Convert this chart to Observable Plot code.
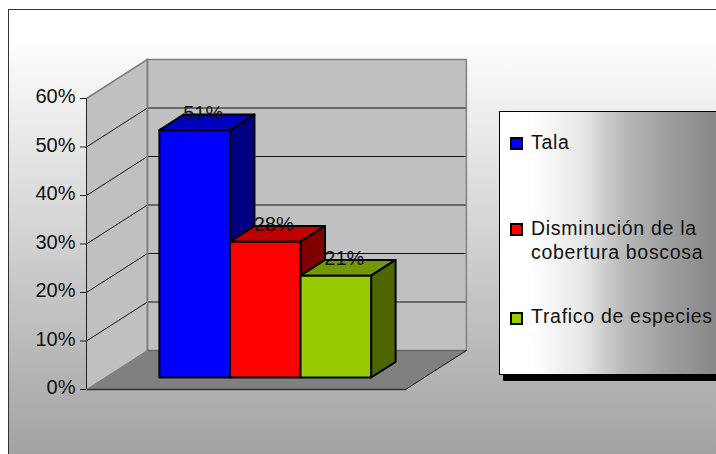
<!DOCTYPE html>
<html>
<head>
<meta charset="utf-8">
<script src="https://cdn.jsdelivr.net/npm/d3@7"></script>
<script src="https://cdn.jsdelivr.net/npm/@observablehq/plot@0.6"></script>
<style>
html,body{margin:0;padding:0;width:716px;height:454px;overflow:hidden;background:#fff}
#bg{position:absolute;left:8px;top:9px;width:720px;height:460px;box-sizing:border-box;border:1.5px solid #333;
  background:linear-gradient(to bottom,#fff 0,#fff 25px,#a2a2a2 445px)}
#chart{position:absolute;left:0;top:0}
#legend{position:absolute;left:499px;top:111px;width:240px;height:264px;box-sizing:border-box;border:1px solid #000;
  box-shadow:4px 6px 0 #000;background:linear-gradient(to right,#fff 0,#fff 31px,#e8e8e8 81px,#bbb 121px,#a0a0a0 164px,#888 214px);
  font:19.5px "Liberation Sans",Arial,sans-serif;letter-spacing:.7px;color:#111}
.sw{position:absolute;left:10px;width:9px;height:9px;border:2px solid #000}
.lb{position:absolute;left:31px;line-height:24px;white-space:nowrap}
</style>
</head>
<body>
<div id="bg"></div>
<div id="chart"></div>
<div id="legend"></div>
<script>
const categories = ["Tala", "Disminución de la cobertura boscosa", "Trafico de especies"];
const legendLines = [["Tala"], ["Disminución de la", "cobertura boscosa"], ["Trafico de especies"]];
const values = [51, 28, 21];
const labels = ["51%", "28%", "21%"];
const frontColors = ["#0000ff", "#ff0000", "#99cc00"];
const topColors = ["#0000c0", "#c00000", "#739900"];
const sideColors = ["#000080", "#800000", "#4d6600"];
const yTicks = [0, 10, 20, 30, 40, 50, 60];

// oblique projection, expressed in data units (x: one bar = 1, y: percent)
const depthX = 0.863, depthY = 8.04;
const gap = 0.767, floorWidth = 4.52;
const depthFront = 0.308, depthBack = 0.71;
const P = (x, v, d) => ({x: x + d * depthX, y: v + d * depthY});

const face = (pts, fill, stroke, strokeWidth) =>
  Plot.line(pts, {x: "x", y: "y", fill, stroke, strokeWidth, curve: "linear-closed"});
const seg = (pts, stroke, strokeWidth) =>
  Plot.line(pts, {x: "x", y: "y", stroke, strokeWidth});

const marks = [];
// walls and floor
marks.push(face([P(0,0,0), P(0,60,0), P(0,60,1), P(0,0,1)], "#c0c0c0", "none"));
marks.push(face([P(0,0,1), P(0,60,1), P(floorWidth,60,1), P(floorWidth,0,1)], "#c0c0c0", "none"));
marks.push(face([P(0,0,0), P(floorWidth,0,0), P(floorWidth,0,1), P(0,0,1)], "#808080", "none"));
// gridlines
for (const v of yTicks.slice(1, -1)) {
  marks.push(seg([P(0,v,0), P(0,v,1)], "#111", 1));
  marks.push(seg([P(0,v,1), P(floorWidth,v,1)], "#111", 1));
}
// wall edges
marks.push(seg([P(0,60,0), P(0,60,1), P(floorWidth,60,1), P(floorWidth,0,1)], "#808080", 1.5));
marks.push(seg([P(0,60,1), P(0,0,1)], "#808080", 2));
marks.push(seg([P(0,0,1), P(floorWidth,0,1)], "#666", 1.5));
marks.push(seg([P(floorWidth,0,1), P(floorWidth,0,0)], "#111", 1));
marks.push(seg([P(0,0,0), P(floorWidth,0,0)], "#333", 1.5));
marks.push(seg([P(0,0,0), P(0,60,0)], "#222", 1));
marks.push(seg([P(0,0,0), P(0,0,1)], "#808080", 1));
// axis: tick marks and, slightly raised, their labels
marks.push(Plot.axisY({ticks: yTicks, text: null, tickSize: 6, label: null, stroke: "#222"}));
marks.push(Plot.axisY({ticks: yTicks, tickFormat: d => d + "%", tickSize: 0, tickPadding: 11, dy: -1.5,
  label: null, fontSize: 20, fill: "#111", fontFamily: "Liberation Sans, Arial, sans-serif"}));
// bars
values.forEach((v, i) => {
  const a = gap + i, b = a + 1;
  const sw = 2, st = "#000";
  marks.push(face([P(a,v,depthFront), P(a,v,depthBack), P(b,v,depthBack), P(b,v,depthFront)], topColors[i], st, sw));
  marks.push(face([P(b,0,depthFront), P(b,v,depthFront), P(b,v,depthBack), P(b,0,depthBack)], sideColors[i], st, sw));
  marks.push(face([P(a,0,depthFront), P(a,v,depthFront), P(b,v,depthFront), P(b,0,depthFront)], frontColors[i], st, sw));
});
// data labels
values.forEach((v, i) => {
  const p = P(gap + i + 0.5, v, depthBack);
  marks.push(Plot.text([labels[i]], {x: () => p.x, y: () => p.y, text: d => d, dx: -16, dy: -1,
    fontSize: 20, fill: "#111", textAnchor: "middle", lineAnchor: "middle",
    fontFamily: "Liberation Sans, Arial, sans-serif"}));
});

const chart = Plot.plot({
  width: 716, height: 454,
  marginLeft: 86, marginRight: 311, marginTop: 98, marginBottom: 65,
  x: {type: "linear", domain: [0, floorWidth], axis: null},
  y: {type: "linear", domain: [0, 60], axis: null},
  style: {background: "transparent", overflow: "visible"},
  marks
});
document.getElementById("chart").append(chart);

// legend
const legend = document.getElementById("legend");
const swatchTops = [25, 111, 200];
const labelTops = [18, 104, 192];
categories.forEach((c, i) => {
  const s = document.createElement("div");
  s.className = "sw";
  s.style.top = swatchTops[i] + "px";
  s.style.background = frontColors[i];
  legend.append(s);
  const t = document.createElement("div");
  t.className = "lb";
  t.style.top = labelTops[i] + "px";
  t.innerHTML = legendLines[i].join("<br>");
  legend.append(t);
});
</script>
</body>
</html>
